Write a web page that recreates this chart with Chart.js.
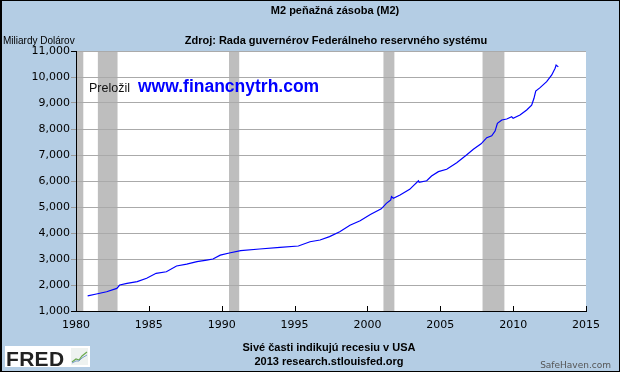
<!DOCTYPE html>
<html>
<head>
<meta charset="utf-8">
<script src="https://cdn.jsdelivr.net/npm/chart.js@4/dist/chart.umd.min.js"></script>
<style>
  html, body { margin: 0; padding: 0; }
  body { width: 620px; height: 372px; background: #b4cde4; position: relative; overflow: hidden;
         font-family: "Liberation Sans", Arial, sans-serif; }
  #the-graph { position: absolute; left: 0; top: 0; }
  #frame { position: absolute; left: 0; top: 0; width: 617px; height: 370px;
           border: 1px solid #000; border-left-width: 2px; pointer-events: none; }
  .t { position: absolute; white-space: nowrap; line-height: 1; color: #000; }
  .c { text-align: center; }
  #logo { position: absolute; left: 5px; top: 346px; width: 85px; height: 21px; background: #fff; }
</style>
</head>
<body>
<canvas id="the-graph" width="620" height="372"></canvas>
<div id="frame"></div>

<div class="t c" style="left:185px;width:300px;top:5px;font-size:11px;font-weight:bold;">M2 peňažná zásoba (M2)</div>
<div class="t c" style="left:136px;width:400px;top:35px;font-size:11px;font-weight:bold;">Zdroj: Rada guvernérov Federálneho reservného systému</div>
<div class="t" style="left:3px;top:36px;font-size:10px;">Miliardy Dolárov</div>

<div class="t" style="left:89px;top:82px;font-size:12.5px;color:#111;">Preložil</div>
<div class="t" style="left:138px;top:78px;font-size:17.5px;font-weight:bold;color:#0000ff;">www.financnytrh.com</div>

<div class="t c" style="left:179px;width:300px;top:342px;font-size:11px;font-weight:bold;">Sivé časti indikujú recesiu v USA</div>
<div class="t c" style="left:179px;width:300px;top:356px;font-size:11px;font-weight:bold;">2013 research.stlouisfed.org</div>

<div id="logo">
  <div class="t" style="left:1px;top:2px;font-size:21px;font-weight:bold;color:#222;letter-spacing:0.3px;">FRED</div>
  <svg style="position:absolute;left:66px;top:2px;" width="17" height="17" viewBox="0 0 17 17">
    <rect x="0" y="0" width="17" height="17" fill="#eef2f0"/>
    <polyline points="1,14 5,11 8,12 11,8 16,4" fill="none" stroke="#6aa84f" stroke-width="1.2"/>
    <polyline points="1,15 5,13 8,13 11,10 16,7" fill="none" stroke="#7a9cc8" stroke-width="1"/>
  </svg>
</div>
<div class="t" style="right:9px;top:361px;font-size:9px;font-family:'DejaVu Sans',sans-serif;color:#555;">SafeHaven.com</div>

<script>
// M2 money stock, billions of dollars (decimal years)
var years = [
  1980.8, 1981.4, 1982.1, 1982.8, 1983.0, 1983.5, 1984.2, 1984.85, 1985.5, 1986.2,
  1986.9, 1987.6, 1988.3, 1988.97, 1989.4, 1989.9, 1990.6, 1991.3, 1992.6, 1994.0,
  1995.26, 1996.06, 1996.75, 1997.4, 1998.1, 1998.8, 1999.5, 2000.2, 2000.95, 2001.3,
  2001.6, 2001.65, 2001.78, 2002.24, 2002.9, 2003.5, 2003.55, 2004.07, 2004.4, 2004.87,
  2005.44, 2006.13, 2006.8, 2007.27, 2007.8, 2008.19, 2008.53, 2008.76, 2008.92, 2009.22,
  2009.56, 2009.9, 2010.0, 2010.47, 2010.93, 2011.27, 2011.43, 2011.55, 2011.85, 2012.3,
  2012.65, 2012.88, 2012.95, 2013.1
];
var m2Values = [
  1580, 1655, 1740, 1870, 2000, 2065, 2130, 2260, 2450, 2510,
  2730, 2800, 2900, 2960, 3000, 3150, 3240, 3320, 3385, 3450,
  3500, 3665, 3730, 3860, 4050, 4300, 4470, 4710, 4930, 5140,
  5270, 5400, 5335, 5460, 5680, 6010, 5950, 6010, 6190, 6360,
  6450, 6700, 7000, 7220, 7430, 7665, 7740, 7920, 8220, 8345,
  8385, 8470, 8410, 8540, 8730, 8920, 9180, 9460, 9590, 9820,
  10080, 10335, 10460, 10390
];

// US recessions (shaded)
var recessionStart = [1980.0, 1981.5, 1990.5, 2001.1, 2007.9];
var recessionEnd   = [1980.5, 1982.85, 1991.2, 2001.85, 2009.4];

var xMin = 1980, xMax = 2015, xStep = 5;
var yMin = 1000, yMax = 11000, yStep = 1000;

var tickFont = { family: "'DejaVu Sans', Verdana, sans-serif", size: 11 };

var points = [];
for (var i = 0; i < years.length; i++) {
  points.push({ x: years[i], y: m2Values[i] });
}

// white plot area + recession bars, under the grid
var recessionBars = {
  id: 'recessionBars',
  beforeDraw: function (chart) {
    var ctx = chart.ctx, a = chart.chartArea, xs = chart.scales.x;
    ctx.save();
    ctx.fillStyle = '#ffffff';
    ctx.fillRect(a.left, a.top, a.right - a.left, a.bottom - a.top);
    ctx.fillStyle = '#bebebe';
    for (var i = 0; i < recessionStart.length; i++) {
      var x0 = xs.getPixelForValue(recessionStart[i]);
      var x1 = xs.getPixelForValue(recessionEnd[i]);
      ctx.fillRect(x0, a.top, x1 - x0, a.bottom - a.top);
    }
    ctx.restore();
  },
  // small x ticks pointing up into the plot
  afterDraw: function (chart) {
    var ctx = chart.ctx, a = chart.chartArea, xs = chart.scales.x;
    ctx.save();
    ctx.strokeStyle = '#000';
    ctx.lineWidth = 1;
    ctx.beginPath();
    xs.ticks.forEach(function (t) {
      var x = Math.round(xs.getPixelForValue(t.value)) + 0.5;
      ctx.moveTo(x, a.bottom);
      ctx.lineTo(x, a.bottom - 5);
    });
    ctx.stroke();
    ctx.restore();
  }
};

var m2Chart = new Chart(document.getElementById('the-graph'), {
  type: 'line',
  data: {
    datasets: [{
      data: points,
      borderColor: '#0000ff',
      borderWidth: 1.2,
      pointRadius: 0,
      tension: 0,
      fill: false
    }]
  },
  options: {
    responsive: false,
    animation: false,
    layout: { padding: { left: 0, top: 51, right: 34, bottom: 0 } },
    plugins: { legend: { display: false }, tooltip: { enabled: false } },
    scales: {
      x: {
        type: 'linear',
        min: xMin, max: xMax,
        afterFit: function (s) { s.height = 61; },
        grid: { drawOnChartArea: false, drawTicks: false },
        border: { display: true, color: '#000', width: 1 },
        ticks: {
          stepSize: xStep, padding: 8, color: '#000', font: tickFont, maxRotation: 0,
          callback: function (v) { return String(v); }
        }
      },
      y: {
        min: yMin, max: yMax,
        afterFit: function (s) { s.width = 76; },
        grid: {
          color: '#aaaaaa', lineWidth: 1, tickLength: 5,
          tickColor: function (c) {
            return (c.tick && (c.tick.value === yMin || c.tick.value === yMax)) ? '#000' : '#999';
          }
        },
        border: { display: true, color: '#000', width: 1 },
        ticks: {
          stepSize: yStep, padding: 1, color: '#000', font: tickFont,
          callback: function (v) { return v.toLocaleString('en-US'); }
        }
      }
    }
  },
  plugins: [recessionBars]
});
</script>
</body>
</html>
